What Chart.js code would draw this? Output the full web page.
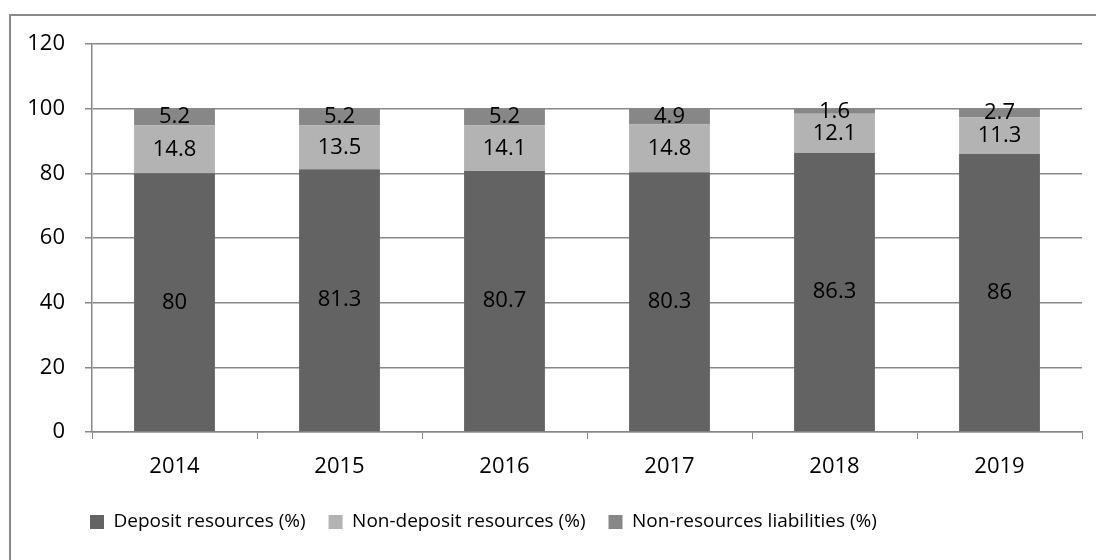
<!DOCTYPE html>
<html>
<head>
<meta charset="utf-8">
<script src="https://cdn.jsdelivr.net/npm/chart.js@4"></script>
<style>
  html, body { margin: 0; padding: 0; background: #fff; }
  #wrap { position: relative; width: 1096px; height: 560px; overflow: hidden; }
  #frame { position: absolute; left: 9px; top: 14px; width: 1200px; height: 700px;
           border-left: 2px solid #8a8a8a; border-top: 2px solid #8a8a8a; box-sizing: border-box; }
  canvas { position: absolute; left: 0; top: 0; }
</style>
</head>
<body>
<div id="wrap">
  <div id="frame"></div>
  <canvas id="c" width="1096" height="560"></canvas>
</div>
<script>
const years = ['2014', '2015', '2016', '2017', '2018', '2019'];
const depositResources = [80, 81.3, 80.7, 80.3, 86.3, 86];
const nonDepositResources = [14.8, 13.5, 14.1, 14.8, 12.1, 11.3];
const nonResourcesLiabilities = [5.2, 5.2, 5.2, 4.9, 1.6, 2.7];
const seriesNames = ['Deposit resources (%)', 'Non-deposit resources (%)', 'Non-resources liabilities (%)'];

const FONT = "'Open Sans', Lato, sans-serif";
const FS = 22;
const LEG_FS = 19;
const LEG_PAD = 23;

const labelPlugin = {
  id: 'segLabels',
  afterLayout(chart) {
    // shift legend so the first swatch starts where the reference's does
    if (chart.legend) {
      const w = chart.legend.right - chart.legend.left;
      chart.legend.left = 90 - LEG_PAD;
      chart.legend.right = chart.legend.left + w;
    }
  },
  afterDatasetsDraw(chart) {
    const ctx = chart.ctx;
    ctx.save();
    ctx.font = FS + "px " + FONT;
    ctx.fillStyle = '#000';
    ctx.textAlign = 'center';
    ctx.textBaseline = 'middle';
    chart.data.datasets.forEach((ds, i) => {
      const meta = chart.getDatasetMeta(i);
      meta.data.forEach((el, j) => {
        const p = el.getProps(['x', 'y', 'base'], true);
        ctx.fillText(String(ds.data[j]), p.x, (p.y + p.base) / 2);
      });
    });
    ctx.restore();
  }
};

new Chart(document.getElementById('c'), {
  type: 'bar',
  data: {
    labels: years,
    datasets: [
      { label: seriesNames[0], data: depositResources, backgroundColor: '#636363' },
      { label: seriesNames[1], data: nonDepositResources, backgroundColor: '#b3b3b3' },
      { label: seriesNames[2], data: nonResourcesLiabilities, backgroundColor: '#878787' }
    ]
  },
  options: {
    responsive: false,
    animation: false,
    devicePixelRatio: 1,
    layout: { padding: { left: 10, right: 14, top: 44, bottom: 18.5 } },
    datasets: { bar: { barPercentage: 0.49, categoryPercentage: 1.0, borderWidth: 0 } },
    scales: {
      x: {
        stacked: true,
        grid: { drawOnChartArea: false, drawTicks: true, tickLength: 7, color: '#888', offset: true },
        border: { color: '#888', width: 1.5 },
        ticks: { font: { family: FONT, size: FS }, color: '#000', padding: 15 },
        afterFit(s) { s.height = 57.5; }
      },
      y: {
        stacked: true,
        min: 0, max: 120,
        grid: { color: '#888', lineWidth: 1.5, drawTicks: true, tickLength: 7 },
        border: { color: '#888', width: 1.5 },
        ticks: { stepSize: 20, font: { family: FONT, size: FS }, color: '#000', padding: 20 },
        afterFit(s) { s.width = 82; }
      }
    },
    plugins: {
      tooltip: { enabled: false },
      legend: {
        position: 'bottom',
        align: 'start',
        labels: { font: { family: FONT, size: LEG_FS }, color: '#000', boxWidth: 14, boxHeight: 14, padding: LEG_PAD }
      }
    }
  },
  plugins: [labelPlugin]
});
</script>
</body>
</html>
